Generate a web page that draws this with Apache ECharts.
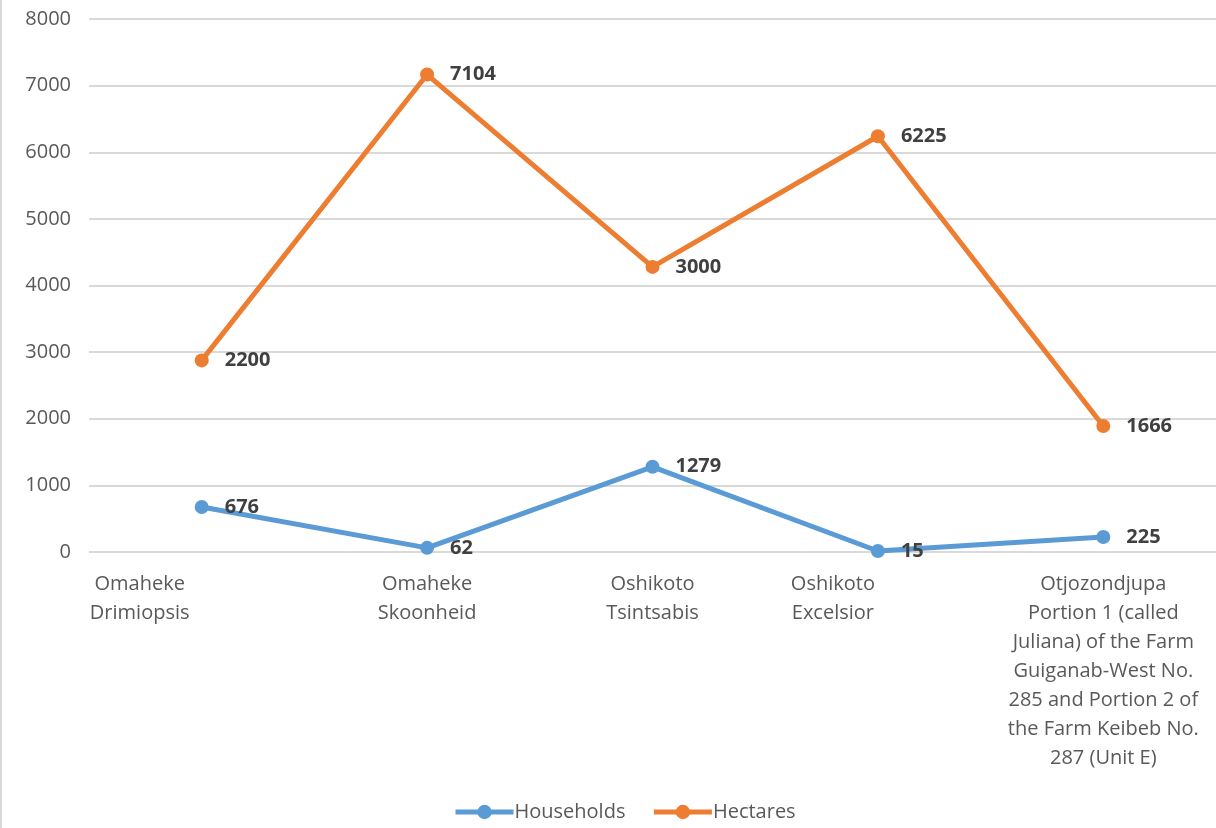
<!DOCTYPE html>
<html>
<head>
<meta charset="utf-8">
<script src="https://cdn.jsdelivr.net/npm/echarts@6/dist/echarts.min.js"></script>
<style>
body {
	margin: 0;
	background-color: #fff;
}

#main {
	width: 1214px;
	height: 828px;
	border-left: 2px solid #d9d9d9;
}
</style>
</head>
<body>
<div id="main"></div>

<script>

var categories = [
	'Omaheke\nDrimiopsis',
	'Omaheke\nSkoonheid',
	'Oshikoto\nTsintsabis',
	'Oshikoto\nExcelsior',
	'Otjozondjupa\nPortion 1 (called\nJuliana) of the Farm\nGuiganab-West No.\n285 and Portion 2 of\nthe Farm Keibeb No.\n287 (Unit E)'
];
var households = [676, 62, 1279, 15, 225];
var hectares = [2200, 7104, 3000, 6225, 1666];

var fontName = '"Open Sans", "Noto Sans", sans-serif';

var chart = echarts.init(document.getElementById('main'));

// Excel nudges some category labels off their tick
var labelShift = [124, 0, 0, 90, 0];

var dataLabel = {
	show: true,
	position: 'right',
	distance: 16,
	fontSize: 20,
	fontWeight: 'bold',
	color: '#404040',
	fontFamily: fontName
};

var option = {
	animation: false,
	color: ['#5b9bd5', '#ed7d31'],
	textStyle: { fontFamily: fontName },
	legend: {
		bottom: 1,
		left: 446,
		itemWidth: 58,
		itemHeight: 18,
		itemGap: 26,
		lineStyle: { width: 5 },
		textStyle: { fontSize: 20, color: '#595959', fontFamily: fontName, padding: [0, 0, 0, -4] },
		data: ['Households', 'Hectares']
	},
	grid: {
		left: 87,
		top: 19,
		width: 1130,
		height: 533,
		containLabel: false
	},
	xAxis: {
		type: 'category',
		boundaryGap: true,
		data: categories.map(function (c, i) {
			return { value: c, textStyle: { padding: [0, labelShift[i], 0, 0] } };
		}),
		axisLine: { show: false },
		axisTick: { show: false },
		axisLabel: {
			interval: 0,
			margin: 18,
			fontSize: 20,
			lineHeight: 29,
			color: '#595959',
			fontFamily: fontName
		}
	},
	yAxis: {
		type: 'value',
		min: 0,
		max: 8000,
		interval: 1000,
		axisLine: { show: false },
		axisTick: { show: false },
		axisLabel: {
			margin: 18,
			fontSize: 20,
			color: '#595959',
			fontFamily: fontName,
			formatter: function (v) { return String(v); }
		},
		splitLine: { lineStyle: { color: '#d9d9d9', width: 2 } }
	},
	series: [
		{
			name: 'Households',
			type: 'line',
			stack: 'total',
			data: households,
			symbol: 'circle',
			symbolSize: 14,
			lineStyle: { width: 5 },
			label: dataLabel
		},
		{
			name: 'Hectares',
			type: 'line',
			stack: 'total',
			data: hectares,
			symbol: 'circle',
			symbolSize: 14,
			lineStyle: { width: 5 },
			label: dataLabel
		}
	]
};

chart.setOption(option);

</script>
</body>
</html>
